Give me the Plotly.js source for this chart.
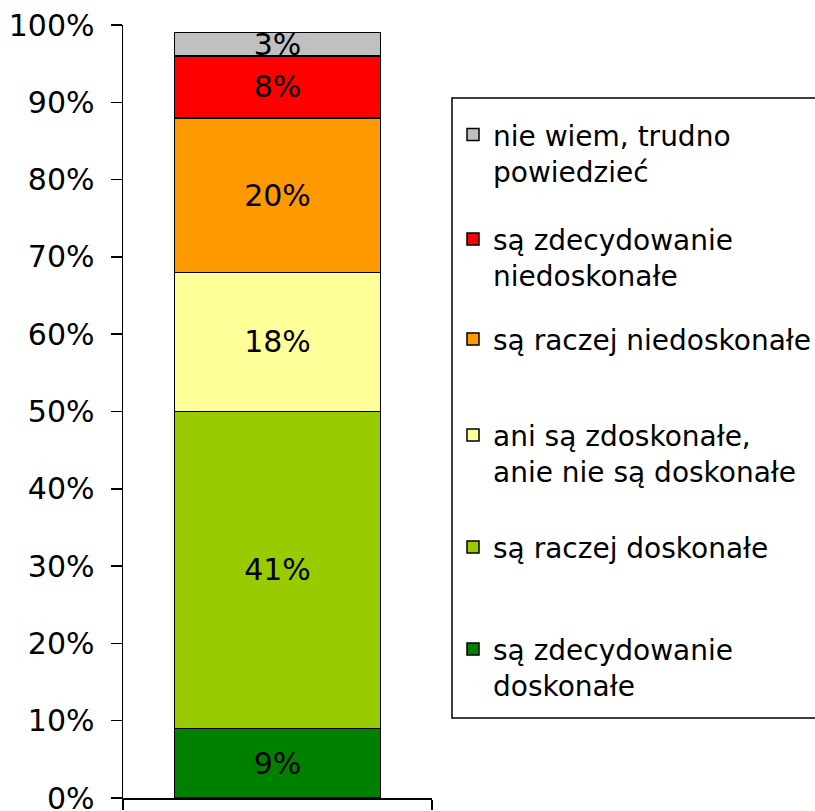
<!DOCTYPE html>
<html>
<head>
<meta charset="utf-8">
<script src="https://cdn.plot.ly/plotly-3.0.1.min.js"></script>
<style>html,body{margin:0;padding:0;background:#fff;}#chart{width:815px;height:811px;}</style>
</head>
<body>
<div id="chart"></div>
<script>
// Data (bottom to top of the stacked bar)
const category = [''];
const seriesNames = [
  'są zdecydowanie<br>doskonałe',
  'są raczej doskonałe',
  'ani są zdoskonałe,<br>anie nie są doskonałe',
  'są raczej niedoskonałe',
  'są zdecydowanie<br>niedoskonałe',
  'nie wiem, trudno<br>powiedzieć'
];
const seriesValues = [9, 41, 18, 20, 8, 3];
const seriesColors = ['#008000', '#99CC00', '#FFFF99', '#FF9900', '#FF0000', '#C0C0C0'];
const yTickVals = [0, 10, 20, 30, 40, 50, 60, 70, 80, 90, 100];

const FONT = 'DejaVu Sans, Verdana, sans-serif';

// plot area geometry (pixels) used to place legend entries
const W = 815, H = 811;
const M = { l: 123, r: 383, t: 25, b: 13 };
const plotH = H - M.t - M.b;
const plotW = W - M.l - M.r;
const toPaperY = py => (H - M.b - py) / plotH;
const toPaperX = px => (px - M.l) / plotW;

// legend entry centres (pixels), bottom series first
const legendCentersPx = [649.5, 547.5, 435.5, 339.5, 239.5, 135];

// pad each legend label to 3 lines so that the marker sits on the first text line
function legendLabel(name) {
  const lines = name.split('<br>');
  while (lines.length < 2) lines.push('&nbsp;');
  return '&nbsp;<br>' + lines.join('<br>');
}

const legendIds = seriesNames.map((_, i) => i === 0 ? 'legend' : 'legend' + (i + 1));

const traces = seriesNames.map((name, i) => ({
  type: 'bar',
  x: [0],
  y: [seriesValues[i]],
  name: legendLabel(name),
  legend: legendIds[i],
  width: 0.667,
  marker: { color: seriesColors[i], line: { color: '#000', width: 1.5 } },
  text: [seriesValues[i] + '%'],
  textposition: 'inside',
  insidetextanchor: 'middle',
  constraintext: 'none',
  textfont: { family: FONT, size: 30, color: '#000' },
  hoverinfo: 'skip'
}));

const layout = {
  width: W,
  height: H,
  barmode: 'stack',
  paper_bgcolor: '#fff',
  plot_bgcolor: '#fff',
  margin: { l: M.l, r: M.r, t: M.t, b: M.b, autoexpand: false },
  font: { family: FONT, color: '#000' },
  showlegend: true,
  xaxis: {
    range: [-0.5, 0.5],
    tickmode: 'array',
    tickvals: [-0.5, 0.5],
    ticktext: ['', ''],
    ticks: 'outside',
    ticklen: 10,
    tickwidth: 1.5,
    tickcolor: '#000',
    showline: true,
    linecolor: '#000',
    linewidth: 1.5,
    showgrid: false,
    zeroline: false,
    fixedrange: true
  },
  yaxis: {
    range: [0, 100],
    tickmode: 'array',
    tickvals: yTickVals,
    ticktext: yTickVals.map(v => v + '%'),
    ticks: 'outside',
    ticklen: 11,
    tickwidth: 1.5,
    tickcolor: '#000',
    ticklabelstandoff: 10,
    ticklabeloverflow: 'allow',
    tickfont: { family: FONT, size: 30, color: '#000' },
    showline: true,
    linecolor: '#000',
    linewidth: 1.5,
    showgrid: false,
    zeroline: false,
    fixedrange: true
  },
  shapes: [{
    type: 'rect', xref: 'paper', yref: 'paper',
    x0: toPaperX(452), x1: toPaperX(900), y0: toPaperY(718), y1: toPaperY(98),
    line: { color: '#000', width: 1.5 },
    fillcolor: 'rgba(0,0,0,0)'
  }]
};

legendIds.forEach((id, i) => {
  layout[id] = {
    x: toPaperX(453), xanchor: 'left',
    y: toPaperY(legendCentersPx[i]), yanchor: 'middle',
    bgcolor: 'rgba(0,0,0,0)',
    borderwidth: 0,
    font: { family: FONT, size: 28, color: '#000' },
    itemclick: false, itemdoubleclick: false
  };
});

Plotly.newPlot('chart', traces, layout, { staticPlot: true, displayModeBar: false });
</script>
</body>
</html>
